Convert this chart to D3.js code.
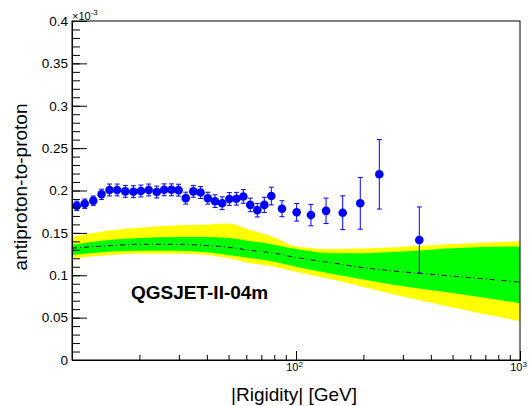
<!DOCTYPE html>
<html>
<head>
<meta charset="utf-8">
<script src="https://cdn.jsdelivr.net/npm/d3@7"></script>
<style>
  body { margin: 0; background: #fff; }
  svg { display: block; font-family: "Liberation Sans", Arial, sans-serif; }
</style>
</head>
<body>
<div id="chart"></div>
<script>
// measured points (ratio in units of 1e-3)
var rigidity = [10.5, 11.4, 12.45, 13.55, 14.7, 15.9, 17.3, 18.8, 20.3, 22.0, 23.9, 25.8, 27.8, 29.9,
                32.2, 34.8, 37.5, 40.4, 43.5, 46.8, 50.4, 54.2, 58.2, 62.5, 67.2, 72.2, 77.6, 86.6,
                100.7, 116.6, 136.2, 161.6, 193.6, 235.5, 355.2];
var ratio = [0.182, 0.1844, 0.188, 0.1955, 0.2006, 0.2006, 0.199, 0.1986, 0.1994, 0.2006, 0.1982, 0.2008, 0.2008, 0.2004,
             0.191, 0.199, 0.1976, 0.1909, 0.1874, 0.185, 0.190, 0.1903, 0.193, 0.183, 0.1768, 0.183, 0.1935, 0.1785,
             0.1743, 0.171, 0.176, 0.1738, 0.1849, 0.2191, 0.1416];
var ratioErr = [0.0055, 0.0055, 0.0055, 0.006, 0.007, 0.007, 0.007, 0.007, 0.007, 0.007, 0.007, 0.007, 0.007, 0.007,
                0.007, 0.007, 0.007, 0.007, 0.0075, 0.0075, 0.0075, 0.0075, 0.008, 0.008, 0.008, 0.009, 0.0105, 0.0094,
                0.0104, 0.0126, 0.015, 0.0199, 0.0305, 0.041, 0.039];

// model prediction QGSJET-II-04m
var modelR      = [10, 15, 20, 30, 40, 50, 60, 80, 100, 150, 200, 300, 500, 1000];
var model       = [0.132, 0.135, 0.1365, 0.1365, 0.135, 0.133, 0.130, 0.126, 0.121, 0.114, 0.109, 0.104, 0.099, 0.092];
var innerHigh   = [0.136, 0.142, 0.144, 0.145, 0.145, 0.144, 0.141, 0.136, 0.131, 0.126, 0.126, 0.128, 0.132, 0.134];
var innerLow    = [0.124, 0.128, 0.129, 0.129, 0.127, 0.124, 0.121, 0.116, 0.110, 0.101, 0.095, 0.087, 0.079, 0.067];
var outerHigh   = [0.145, 0.153, 0.156, 0.159, 0.160, 0.161, 0.155, 0.1445, 0.134, 0.131, 0.1315, 0.1335, 0.137, 0.140];
var outerLow    = [0.120, 0.124, 0.1255, 0.1255, 0.124, 0.120, 0.115, 0.110, 0.104, 0.094, 0.086, 0.075, 0.062, 0.046];

var yTicks = [0, 0.05, 0.1, 0.15, 0.2, 0.25, 0.3, 0.35, 0.4];
var xTicks = [100, 1000];

var W = 530, H = 406;
var pL = 72, pR = 520, pT = 21, pB = 360;

var svg = d3.select("#chart").append("svg")
    .attr("width", W).attr("height", H);

var x = d3.scaleLog().domain([10, 1000]).range([pL, pR]);
var y = d3.scaleLinear().domain([0, 0.4]).range([pB, pT]);

svg.append("clipPath").attr("id", "plotclip")
  .append("rect").attr("x", pL).attr("y", pT)
  .attr("width", pR - pL).attr("height", pB - pT);

var plot = svg.append("g").attr("clip-path", "url(#plotclip)");

var band = function(lo, hi) {
  return d3.area()
    .x(function(d, i) { return x(modelR[i]); })
    .y0(function(d, i) { return y(lo[i]); })
    .y1(function(d, i) { return y(hi[i]); })
    .curve(d3.curveMonotoneX)(modelR);
};

plot.append("path").attr("d", band(outerLow, outerHigh)).attr("fill", "#ffff00");
plot.append("path").attr("d", band(innerLow, innerHigh)).attr("fill", "#00ff00");

var centerLine = d3.line()
  .x(function(d, i) { return x(modelR[i]); })
  .y(function(d) { return y(d); })
  .curve(d3.curveMonotoneX);

plot.append("path").attr("d", centerLine(model))
  .attr("fill", "none").attr("stroke", "#000")
  .attr("stroke-width", 1)
  .attr("stroke-dasharray", "5,3,1,3");

// error bars
var pts = plot.selectAll("g.pt").data(rigidity).enter().append("g").attr("class", "pt");

pts.append("line")
  .attr("x1", function(d) { return x(d); })
  .attr("x2", function(d) { return x(d); })
  .attr("y1", function(d, i) { return y(ratio[i] + ratioErr[i]); })
  .attr("y2", function(d, i) { return y(ratio[i] - ratioErr[i]); })
  .attr("stroke", "#0000ff").attr("stroke-width", 1);

[1, -1].forEach(function(s) {
  pts.append("line")
    .attr("x1", function(d) { return x(d) - 2.5; })
    .attr("x2", function(d) { return x(d) + 2.5; })
    .attr("y1", function(d, i) { return y(ratio[i] + s * ratioErr[i]); })
    .attr("y2", function(d, i) { return y(ratio[i] + s * ratioErr[i]); })
    .attr("stroke", "#0000ff").attr("stroke-width", 1);
});

pts.append("circle")
  .attr("cx", function(d) { return x(d); })
  .attr("cy", function(d, i) { return y(ratio[i]); })
  .attr("r", 4.3)
  .attr("fill", "#0000ff");

// frame
svg.append("rect")
  .attr("x", pL).attr("y", pT)
  .attr("width", pR - pL).attr("height", pB - pT)
  .attr("fill", "none").attr("stroke", "#000").attr("stroke-width", 1);

// y axis
var yMinor = svg.append("g").attr("transform", "translate(" + pL + ",0)")
  .call(d3.axisLeft(y).tickValues(d3.range(0, 41).map(function(i) { return i / 100; }))
    .tickSize(-8).tickFormat(""));
var yMajor = svg.append("g").attr("transform", "translate(" + pL + ",0)")
  .call(d3.axisLeft(y).tickValues(yTicks).tickSize(-15).tickPadding(4)
    .tickFormat(function(d) { return d3.format("")(+d.toFixed(2)); }));

[yMinor, yMajor].forEach(function(g) {
  g.select(".domain").attr("stroke", "#000");
  g.selectAll(".tick line").attr("stroke", "#000");
});
yMajor.selectAll("text").attr("font-size", "13.5px").attr("fill", "#000")
  .attr("font-family", "Liberation Sans, Arial, sans-serif");

// x axis
var minorX = [20, 30, 40, 50, 60, 70, 80, 90, 200, 300, 400, 500, 600, 700, 800, 900];
var xMinor = svg.append("g").attr("transform", "translate(0," + pB + ")")
  .call(d3.axisBottom(x).tickValues(minorX).tickSize(-5).tickFormat(""));
var xMajor = svg.append("g").attr("transform", "translate(0," + pB + ")")
  .call(d3.axisBottom(x).tickValues(xTicks).tickSize(-9).tickPadding(3).tickFormat(""));

[xMinor, xMajor].forEach(function(g) {
  g.select(".domain").attr("stroke", "#000");
  g.selectAll(".tick line").attr("stroke", "#000");
});

xMajor.selectAll(".tick text").each(function(d) {
  var t = d3.select(this)
    .attr("font-size", "11px").attr("fill", "#000")
    .attr("font-family", "Liberation Sans, Arial, sans-serif")
    .attr("text-anchor", "middle").attr("dx", "-2");
  t.append("tspan").text("10");
  t.append("tspan").attr("font-size", "8px").attr("dy", "-4")
    .text(Math.round(Math.log10(d)));
});

// exponent label
var expo = svg.append("text")
  .attr("x", pL).attr("y", 20)
  .attr("font-size", "11px").attr("fill", "#000");
expo.append("tspan").text("\u00d710");
expo.append("tspan").attr("font-size", "8px").attr("dy", "-5").text("-3");

// axis titles
svg.append("text")
  .attr("transform", "translate(27,187) rotate(-90)")
  .attr("text-anchor", "middle")
  .attr("font-size", "19px").attr("fill", "#000")
  .text("antiproton-to-proton");

svg.append("text")
  .attr("x", 231).attr("y", 401)
  .attr("font-size", "19px").attr("fill", "#000")
  .text("|Rigidity| [GeV]");

// model label
svg.append("text")
  .attr("x", 131).attr("y", 299)
  .attr("font-size", "19px").attr("font-weight", "bold").attr("fill", "#000")
  .text("QGSJET-II-04m");
</script>
</body>
</html>
